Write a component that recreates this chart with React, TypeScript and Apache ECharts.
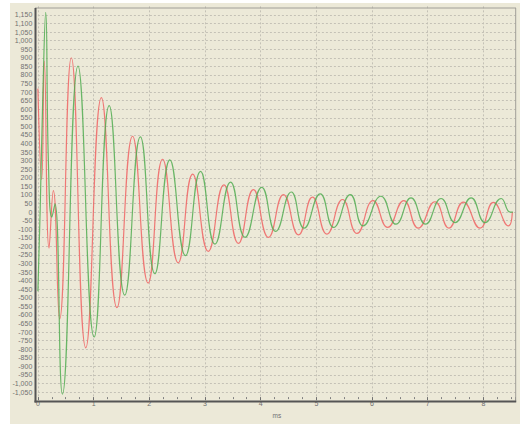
import React, { useEffect, useRef } from 'react';
import * as echarts from 'echarts';

const redTimes = [0, 0.068, 0.115, 0.2, 0.277, 0.39, 0.6, 0.86, 1.14, 1.42, 1.7, 1.98, 2.24, 2.52, 2.78, 3.06, 3.34, 3.6, 3.87, 4.14, 4.41, 4.68, 4.93, 5.19, 5.47, 5.73, 6.02, 6.28, 6.57, 6.83, 7.13, 7.38, 7.64, 7.94, 8.18, 8.45, 8.52];
const redValues = [720, 190, 880, -210, 125, -625, 900, -792, 668, -558, 442, -414, 308, -296, 221, -229, 159, -183, 131, -148, 102, -133, 87, -129, 73, -125, 67, -90, 67, -94, 60, -94, 58, -94, 56, -81, 0];
const greenTimes = [0, 0.04, 0.09, 0.14, 0.19, 0.25, 0.307, 0.44, 0.72, 1.01, 1.28, 1.56, 1.84, 2.1, 2.37, 2.65, 2.92, 3.18, 3.46, 3.72, 4.02, 4.27, 4.55, 4.78, 5.07, 5.31, 5.61, 5.84, 6.16, 6.43, 6.7, 6.96, 7.24, 7.49, 7.78, 8.03, 8.32, 8.48, 8.53];
const greenValues = [-462, 0, 700, 1165, 275, -30, 48, -1062, 852, -729, 621, -485, 439, -360, 304, -254, 237, -187, 175, -148, 144, -113, 117, -94, 106, -90, 102, -81, 92, -71, 83, -71, 79, -62, 83, -62, 79, 0, 0];
const hiddenYLabels = [1200, -1100];
const xAxisName = 'ms';

const zip = (xs: number[], ys: number[]) => xs.map((x, i) => [x, ys[i]]);

export default function App() {
  const ref = useRef<HTMLDivElement>(null);
  useEffect(() => {
    document.body.style.margin = '0';
    const chart = echarts.init(ref.current!, null, { renderer: 'svg' });
    const frameDark = '#555555';
    const frameLight = '#a09e98';
    const gridColor = '#c4c1b6';
    chart.setOption({
      animation: false,
      backgroundColor: '#ffffff',
      textStyle: { fontFamily: 'Liberation Sans, Arial, sans-serif' },
      grid: { left: 37.9, top: 6.33, width: 477.8, height: 398.64, containLabel: false },
      xAxis: {
        type: 'value',
        min: 0,
        max: 8.58,
        interval: 1,
        offset: -3.5,
        name: xAxisName,
        nameLocation: 'middle',
        nameGap: 11,
        nameTextStyle: { fontSize: 6.5, color: '#707070' },
        axisLine: { show: false, onZero: false },
        axisTick: { show: true, length: 3, lineStyle: { color: '#707070' } },
        minorTick: { show: true, splitNumber: 4, length: 2, lineStyle: { color: '#808080' } },
        axisLabel: {
          fontSize: 7,
          color: '#707070',
          margin: 3,
          formatter: (v: number) => (Number.isInteger(v) ? String(v) : ''),
        },
        splitLine: {
          show: true,
          showMaxLine: false,
          lineStyle: { color: gridColor, type: [2, 2], width: 1 },
        },
      },
      yAxis: {
        type: 'value',
        min: -1100,
        max: 1200,
        interval: 50,
        offset: 2.6,
        axisLine: { show: false, onZero: false },
        axisTick: { show: false },
        axisLabel: {
          fontSize: 7,
          color: '#707070',
          margin: 3,
          formatter: (v: number) => (hiddenYLabels.includes(v) ? '' : v.toLocaleString('en-US')),
        },
        splitLine: {
          show: true,
          showMinLine: false,
          showMaxLine: false,
          lineStyle: { color: gridColor, type: [2, 2], width: 1 },
        },
      },
      graphic: [
        { type: 'rect', z: -100, shape: { x: 10, y: 3, width: 510, height: 421 }, style: { fill: '#ECE9D8' } },
        { type: 'line', z: 100, shape: { x1: 35, y1: 8, x2: 516, y2: 8 }, style: { stroke: frameLight, lineWidth: 1 } },
        { type: 'line', z: 100, shape: { x1: 515.7, y1: 8, x2: 515.7, y2: 402 }, style: { stroke: frameLight, lineWidth: 1 } },
        { type: 'line', z: 100, shape: { x1: 35.5, y1: 8, x2: 35.5, y2: 402.5 }, style: { stroke: frameDark, lineWidth: 2 } },
        { type: 'line', z: 100, shape: { x1: 34.5, y1: 401.5, x2: 516.2, y2: 401.5 }, style: { stroke: frameDark, lineWidth: 2 } },
      ],
      series: [
        {
          type: 'line',
          data: zip(redTimes, redValues),
          showSymbol: false,
          smooth: 0.5,
          lineStyle: { color: '#f06464', width: 1.2, opacity: 0.85 },
        },
        {
          type: 'line',
          data: zip(greenTimes, greenValues),
          showSymbol: false,
          smooth: 0.5,
          lineStyle: { color: '#52ad52', width: 1.2, opacity: 0.85 },
        },
      ],
    });
    return () => chart.dispose();
  }, []);
  return <div ref={ref} style={{ position: 'absolute', left: 0, top: 0, width: 532, height: 424 }} />;
}
